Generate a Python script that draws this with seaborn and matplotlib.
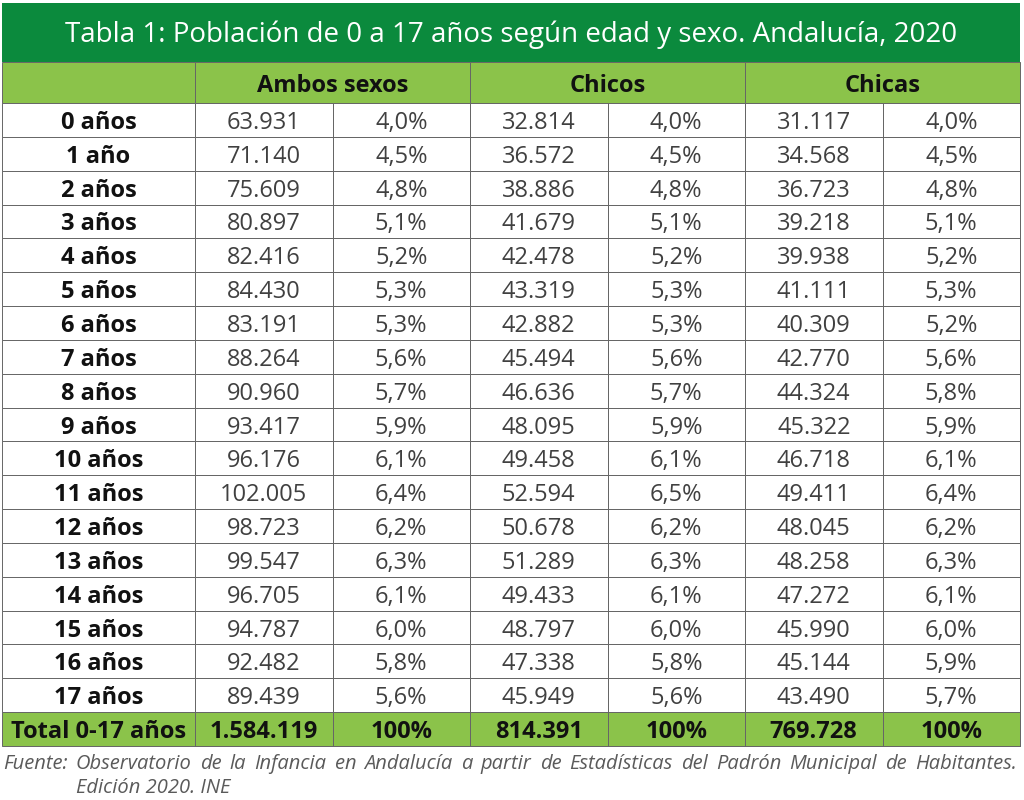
import numpy as np
import pandas as pd
import seaborn as sns
import matplotlib.pyplot as plt
from matplotlib.colors import ListedColormap
from matplotlib.patches import Rectangle

# table data
edades = ['0 años', '1 año', '2 años', '3 años', '4 años', '5 años', '6 años', '7 años', '8 años',
          '9 años', '10 años', '11 años', '12 años', '13 años', '14 años', '15 años', '16 años', '17 años']
ambos_n = [63931, 71140, 75609, 80897, 82416, 84430, 83191, 88264, 90960,
           93417, 96176, 102005, 98723, 99547, 96705, 94787, 92482, 89439]
ambos_pct = [4.0, 4.5, 4.8, 5.1, 5.2, 5.3, 5.3, 5.6, 5.7, 5.9, 6.1, 6.4, 6.2, 6.3, 6.1, 6.0, 5.8, 5.6]
chicos_n = [32814, 36572, 38886, 41679, 42478, 43319, 42882, 45494, 46636,
            48095, 49458, 52594, 50678, 51289, 49433, 48797, 47338, 45949]
chicos_pct = [4.0, 4.5, 4.8, 5.1, 5.2, 5.3, 5.3, 5.6, 5.7, 5.9, 6.1, 6.5, 6.2, 6.3, 6.1, 6.0, 5.8, 5.6]
chicas_n = [31117, 34568, 36723, 39218, 39938, 41111, 40309, 42770, 44324,
            45322, 46718, 49411, 48045, 48258, 47272, 45990, 45144, 43490]
chicas_pct = [4.0, 4.5, 4.8, 5.1, 5.2, 5.3, 5.2, 5.6, 5.8, 5.9, 6.1, 6.4, 6.2, 6.3, 6.1, 6.0, 5.9, 5.7]
total_label = 'Total 0-17 años'
totales_n = [1584119, 814391, 769728]
grupos = ['Ambos sexos', 'Chicos', 'Chicas']

titulo = 'Tabla 1: Población de 0 a 17 años según edad y sexo. Andalucía, 2020'
fuente_1 = 'Fuente: Observatorio de la Infancia en Andalucía a partir de Estadísticas del Padrón Municipal de Habitantes.'
fuente_2 = 'Edición 2020. INE'

VERDE_OSCURO = '#0b8a3d'
VERDE_CLARO = '#8bc34a'
LINEA = '#666666'
LW = 0.7
FS = 17
DY = 0.09  # nudge text down a little so digits sit in the middle of the cell


def miles(v):
    return f'{v:,}'.replace(',', '.')


def pct(v):
    return f'{v:.1f}%'.replace('.', ',')


# build body as a dataframe: 18 age rows + total row
cols = [(ambos_n, ambos_pct), (chicos_n, chicos_pct), (chicas_n, chicas_pct)]
labels = []
for i in range(len(edades)):
    row = []
    for n, p in cols:
        row += [miles(n[i]), pct(p[i])]
    labels.append(row)
labels.append(sum([[miles(t), '100%'] for t in totales_n], []))
labels = np.array(labels)
shade = pd.DataFrame(np.zeros(labels.shape), index=edades + [total_label])
shade.iloc[-1] = 1

sns.set_theme(style='white')
plt.rcParams['font.family'] = ['Open Sans', 'DejaVu Sans']

W, H = 1024, 800
fig = plt.figure(figsize=(W / 100, H / 100), dpi=100)
ax = fig.add_axes([0, 0, 1, 1])

sns.heatmap(shade, ax=ax, cmap=ListedColormap(['white', VERDE_CLARO]), vmin=0, vmax=1,
            cbar=False, linewidths=LW, linecolor=LINEA,
            annot=labels, fmt='', annot_kws={'fontsize': FS, 'color': '#404040'})
nrows = labels.shape[0]
for t in ax.texts:
    x, y = t.get_position()
    t.set_position((x, y + DY))
for t in ax.texts[-6:]:
    t.set_fontweight('bold')
    t.set_color('#111111')

# pixel layout
TAB_L, LAB_R, TAB_R = 2, 195, 1020
TITLE_T, HEAD_T, BODY_T, BODY_B = 3, 62, 103, 746
cw = (TAB_R - LAB_R) / 6
rh = (BODY_B - BODY_T) / nrows


def ux(px):
    return (px - LAB_R) / cw


def uy(py):
    return (py - BODY_T) / rh


ax.set_xlim(ux(0), ux(W))
ax.set_ylim(uy(H), uy(0))
ax.axis('off')

# title band
ax.add_patch(Rectangle((ux(TAB_L), uy(TITLE_T)), ux(TAB_R) - ux(TAB_L), uy(HEAD_T) - uy(TITLE_T),
                       facecolor=VERDE_OSCURO, edgecolor=VERDE_OSCURO, lw=0))
ax.text(ux((TAB_L + TAB_R) / 2), uy(35), titulo, color='white', fontsize=20,
        ha='center', va='center')

# header row
ax.add_patch(Rectangle((ux(TAB_L), uy(HEAD_T)), -ux(TAB_L), -uy(HEAD_T),
                       facecolor=VERDE_CLARO, edgecolor=LINEA, lw=LW))
for k, g in enumerate(grupos):
    ax.add_patch(Rectangle((2 * k, uy(HEAD_T)), 2, -uy(HEAD_T),
                           facecolor=VERDE_CLARO, edgecolor=LINEA, lw=LW))
    ax.text(2 * k + 1, uy(HEAD_T) / 2 + DY, g, fontsize=FS, fontweight='bold',
            color='#111111', ha='center', va='center')

# row label column
for i, lab in enumerate(list(shade.index)):
    fc = VERDE_CLARO if i == nrows - 1 else 'white'
    ax.add_patch(Rectangle((ux(TAB_L), i), -ux(TAB_L), 1, facecolor=fc, edgecolor=LINEA, lw=LW))
    ax.text(ux((TAB_L + LAB_R) / 2), i + 0.5 + DY, lab, fontsize=FS, fontweight='bold',
            color='#111111', ha='center', va='center')

# source note, first line justified
renderer = fig.canvas.get_renderer()
words = fuente_1.split()
objs = [fig.text(0, 1 - 764 / H, w, fontsize=14.5, style='italic', color='#5a5a5a',
                 ha='left', va='center') for w in words]
widths = [o.get_window_extent(renderer).width for o in objs]
x0, x1 = 3, 1017
gap = (x1 - x0 - sum(widths)) / (len(words) - 1)
x = x0
for o, w in zip(objs, widths):
    o.set_x(x / W)
    x += w + gap
fig.text(76 / W, 1 - 788 / H, fuente_2, fontsize=14.5, style='italic', color='#5a5a5a',
         ha='left', va='center')

fig.savefig('out.png', dpi=100)
